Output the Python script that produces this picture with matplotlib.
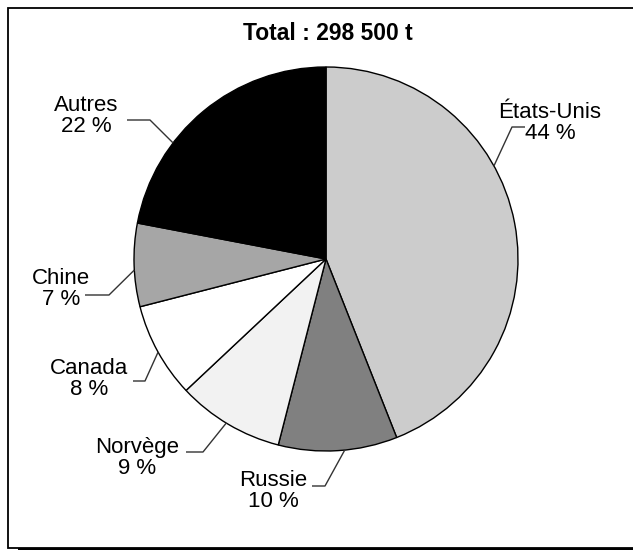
import matplotlib
matplotlib.use("Agg")
import matplotlib.pyplot as plt
from matplotlib.patches import Rectangle
import numpy as np

plt.rcParams['font.family'] = ['Liberation Sans', 'DejaVu Sans']

title = "Total : 298 500 t"
categories = ["États-Unis", "Russie", "Norvège", "Canada", "Chine", "Autres"]
values = [44, 10, 9, 8, 7, 22]
colors = ["#cccccc", "#808080", "#f2f2f2", "#ffffff", "#a6a6a6", "#000000"]

# label layout (image pixel coords): text centre, leader anchor angle, elbow, end
label_pos = [(550, 123), (273, 491), (137, 458), (89, 379), (61, 289), (86, 116)]
anchor_deg = [29.0, -84.4, -121.3, -151.0, -176.7, 142.8]
elbows = [(512, 127), (325, 486), (203, 452), (145, 381), (109, 295), (150, 120)]
ends = [(525, 127), (312, 486), (186, 452), (133, 381), (85, 295), (127, 120)]

W, H = 633, 550
fig = plt.figure(figsize=(W / 100, H / 100), dpi=100)
ax = fig.add_axes([0, 0, 1, 1])
ax.set_xlim(0, W)
ax.set_ylim(0, H)
ax.set_aspect('equal')
ax.axis('off')

def Y(y):
    return H - y

# frame with shadow
ax.add_patch(Rectangle((18, Y(550)), 640, 539, facecolor='black', edgecolor='black', lw=0, zorder=0))
ax.add_patch(Rectangle((8, Y(548)), 640, 540, facecolor='white', edgecolor='black', lw=1.3, zorder=1))

cx, cy, r = 326, 259, 192
ax.pie(values, colors=colors, startangle=90, counterclock=False,
       center=(cx, Y(cy)), radius=r,
       wedgeprops=dict(edgecolor='black', linewidth=1.0, zorder=2))
ax.set_xlim(0, W)
ax.set_ylim(0, H)

ax.text(328, Y(34), title, ha='center', va='center', fontsize=16.5, fontweight='bold', zorder=5)

for cat, v, (tx, ty), a, (ex, ey), (hx, hy) in zip(categories, values, label_pos, anchor_deg, elbows, ends):
    px = cx + r * np.cos(np.radians(a))
    py = Y(cy) + r * np.sin(np.radians(a))
    ax.plot([px, ex, hx], [py, Y(ey), Y(hy)], color='#333333', lw=1.0, zorder=4, solid_capstyle='butt')
    ax.text(tx, Y(ty), f"{cat}\n{v} %", ha='center', va='center', fontsize=16,
            linespacing=0.95, zorder=5)

fig.savefig("out.png", dpi=100)
